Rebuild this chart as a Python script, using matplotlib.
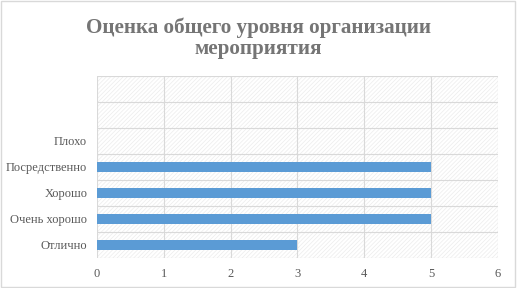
import matplotlib
matplotlib.use("Agg")
import matplotlib.pyplot as plt
from matplotlib.patches import Rectangle

categories = ["Отлично", "Очень хорошо", "Хорошо", "Посредственно", "Плохо", "", ""]
values = [3, 5, 5, 5, 0, 0, 0]
xticks = [0, 1, 2, 3, 4, 5, 6]
title = "Оценка общего уровня организации\nмероприятия"

plt.rcParams["hatch.linewidth"] = 0.5
plt.rcParams["hatch.color"] = "#ececec"

fig = plt.figure(figsize=(5.17, 2.88), dpi=100)
fig.patch.set_facecolor("white")
fig.add_artist(Rectangle((0.002, 0.003), 0.995, 0.993, transform=fig.transFigure,
                         fill=False, edgecolor="#d9d9d9", linewidth=1.0))

ax = fig.add_axes([0.1876, 0.1042, 0.7756, 0.632])
ax.add_patch(Rectangle((0, 0), 1, 1, transform=ax.transAxes, facecolor="white",
                       edgecolor="#ececec", hatch="////////", linewidth=0, zorder=0))
ax.set_facecolor("none")

ypos = list(range(len(categories)))
ax.barh(ypos, values, height=0.38, color="#5B9BD5", zorder=3)
ax.set_xlim(0, 6)
ax.set_ylim(-0.5, len(categories) - 0.5)
ax.set_xticks(xticks)
ax.set_xticklabels([str(t) for t in xticks])
ax.set_yticks(ypos)
ax.set_yticklabels(categories)

for v in xticks:
    ax.axvline(v, color="#d9d9d9", linewidth=0.8, zorder=1)
for y in [-0.5] + [y + 0.5 for y in ypos]:
    ax.axhline(y, color="#d9d9d9", linewidth=0.8, zorder=1)

for s in ax.spines.values():
    s.set_visible(False)
ax.tick_params(axis="both", which="both", length=0, colors="#595959",
               labelsize=9, pad=7)
for lab in ax.get_xticklabels() + ax.get_yticklabels():
    lab.set_fontfamily("Liberation Serif")

fig.text(0.5, 0.94, title, ha="center", va="top", fontsize=15.2, fontweight="bold",
         color="#757575", family="Liberation Serif", linespacing=1.1)

fig.savefig("out.png", dpi=100)
